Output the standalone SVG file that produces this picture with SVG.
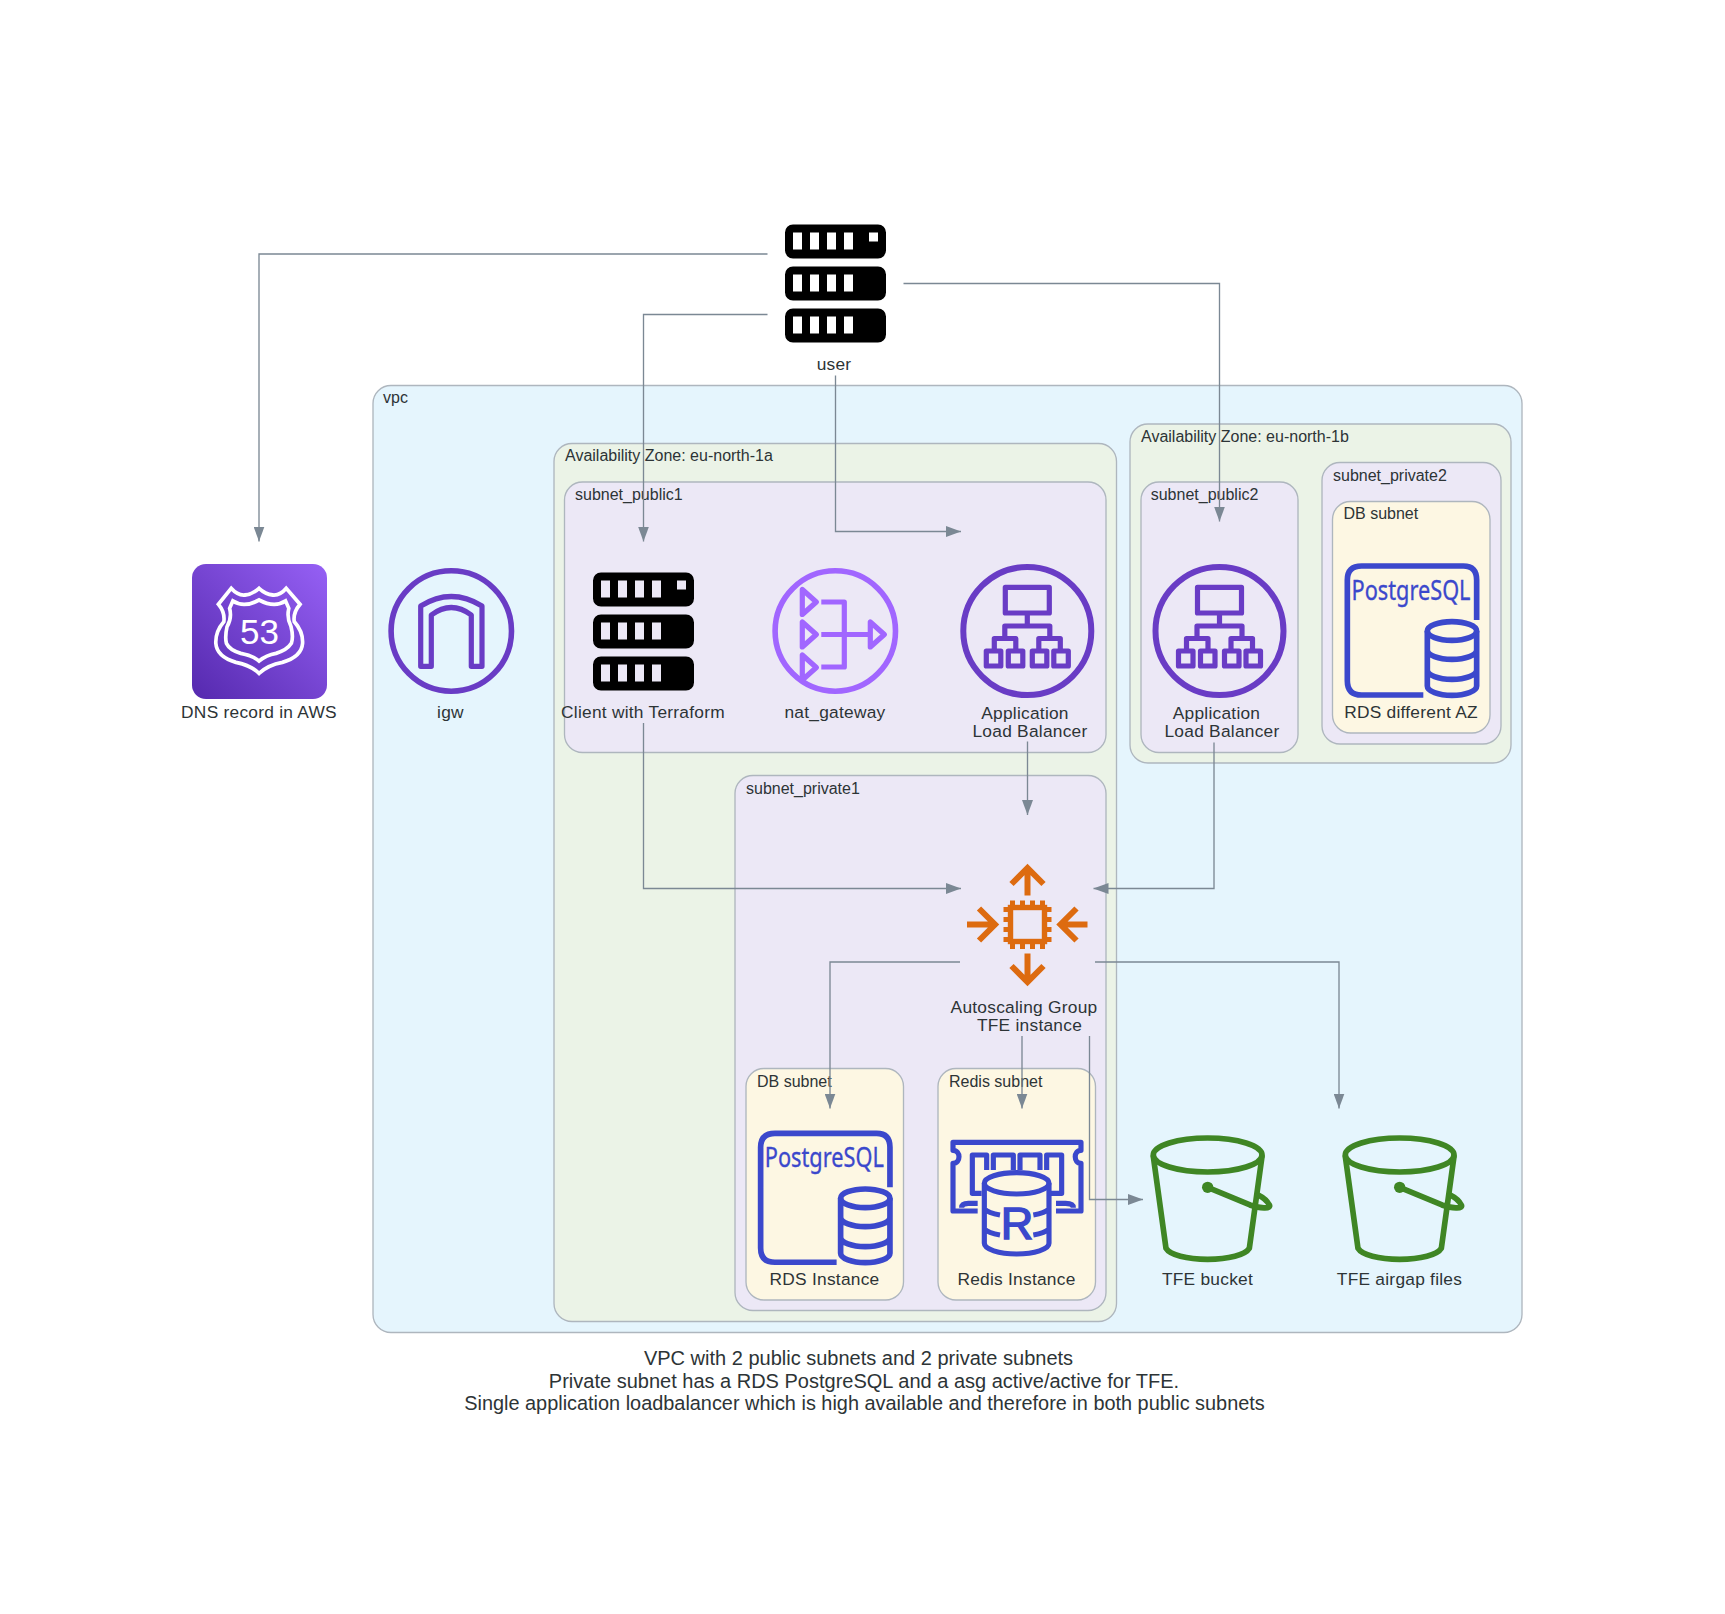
<svg xmlns="http://www.w3.org/2000/svg" xmlns:xlink="http://www.w3.org/1999/xlink" width="1725" height="1614" viewBox="0 0 1725 1614">
<style>
text{font-family:"Liberation Sans",Arial,sans-serif;fill:#2D3436}
.cl rect{stroke:#AEB6BE;stroke-width:1.33}
.cl text{font-size:16px}
.vpc{fill:#E5F5FD}.az{fill:#EBF3E7}.sn{fill:#ECE8F6}.db{fill:#FDF7E3}
.lb{font-size:17.33px;text-anchor:middle;letter-spacing:.25px}
.ttl{font-size:20px;text-anchor:middle}
.e{fill:none;stroke:#7B8894;stroke-width:1.33;marker-end:url(#ah)}
.p{fill:none;stroke:#693CC5;stroke-linejoin:round}
.n{fill:none;stroke:#A166FF;stroke-linejoin:round}
.b{fill:none;stroke:#3B48CC;stroke-width:17}
.g{fill:none;stroke:#3F8624;stroke-width:17;stroke-linejoin:round;stroke-linecap:round}
.o{fill:none;stroke:#DD6B10;stroke-width:6;stroke-linejoin:miter}
.pg{font-family:"Noto Sans","Open Sans",sans-serif;font-size:27px;fill:#3B48CC;stroke:#3B48CC;stroke-width:.35}
</style>
<defs>
<marker id="ah" markerUnits="userSpaceOnUse" markerWidth="15" markerHeight="11" refX="15" refY="5.500" orient="auto"><path d="M0 0L15 5.500L0 11z" fill="#7B8894"/></marker>
<linearGradient id="r53" x1="0" y1="1" x2="1" y2="0"><stop offset="0" stop-color="#5529AE"/><stop offset="1" stop-color="#9660F5"/></linearGradient>
<path id="server" fill-rule="evenodd" d="M8 0H93A8 8 0 0 1 101 8V26A8 8 0 0 1 93 34H8A8 8 0 0 1 0 26V8A8 8 0 0 1 8 0ZM8 8V25H17V8ZM25 8V25H34V8ZM42 8V25H51V8ZM59 8V25H68V8ZM84 8V17H93V8ZM8 42H93A8 8 0 0 1 101 50V68A8 8 0 0 1 93 76H8A8 8 0 0 1 0 68V50A8 8 0 0 1 8 42ZM8 50V67H17V50ZM25 50V67H34V50ZM42 50V67H51V50ZM59 50V67H68V50ZM8 84H93A8 8 0 0 1 101 92V110A8 8 0 0 1 93 118H8A8 8 0 0 1 0 110V92A8 8 0 0 1 8 84ZM8 92V109H17V92ZM25 92V109H34V92ZM42 92V109H51V92ZM59 92V109H68V92Z"/>
<g id="alb">
<circle r="64" class="p" stroke-width="6"/>
<g class="p" stroke-width="5.200">
<rect x="-22" y="-43.600" width="44" height="25.600"/>
<path d="M0-18V-5M-22.500 7V-5H22.500V7M-33 20V7.500H-11.500V20M11.500 20V7.500H33V20"/>
<rect x="-41" y="20" width="14.500" height="15"/><rect x="-19" y="20" width="14.500" height="15"/><rect x="5" y="20" width="14.500" height="15"/><rect x="26.500" y="20" width="14.500" height="15"/>
</g>
</g>
<g id="pgicon" transform="scale(.3333)">
<path class="b" d="M250 405H65Q22 405 22 362V60Q22 18 65 18H370Q410 18 410 60V180"/>
<ellipse class="b" cx="336" cy="213" rx="74" ry="28"/>
<path class="b" d="M262 213V378A74 28 0 0 0 410 378V213M262 270A74 28 0 0 0 410 270M262 330A74 28 0 0 0 410 330"/>
</g>
<g id="bucket" transform="scale(.3333)">
<ellipse class="g" cx="233" cy="165" rx="163" ry="51"/>
<path class="g" d="M70 170L108 445C120 465 170 478 233 478S346 465 358 445L396 170"/>
<path class="g" d="M233 262L360 315C395 328 425 325 418 315C412 303 395 290 385 285"/>
<circle cx="233" cy="262" r="17" fill="#3F8624"/>
</g>
</defs>
<rect width="1725" height="1614" fill="#fff"/>

<g id="clusters">
<g id="cl-vpc" class="cl"><rect class="vpc" x="373" y="385.500" width="1149" height="947" rx="18"/><text x="383" y="403">vpc</text></g>
<g id="cl-az-a" class="cl"><rect class="az" x="554" y="443.500" width="562.500" height="878" rx="18"/><text x="565" y="461">Availability Zone: eu-north-1a</text></g>
<g id="cl-az-b" class="cl"><rect class="az" x="1130" y="424" width="381" height="339" rx="18"/><text x="1141" y="442">Availability Zone: eu-north-1b</text></g>
<g id="cl-public1" class="cl"><rect class="sn" x="564.500" y="482" width="541.500" height="270.500" rx="18"/><text x="575" y="500">subnet_public1</text></g>
<g id="cl-private1" class="cl"><rect class="sn" x="735" y="775.500" width="371" height="535" rx="18"/><text x="746" y="793.500">subnet_private1</text></g>
<g id="cl-public2" class="cl"><rect class="sn" x="1141" y="482" width="157" height="270.500" rx="18"/><text x="1150.700" y="500">subnet_public2</text></g>
<g id="cl-private2" class="cl"><rect class="sn" x="1322" y="462.500" width="179" height="281.500" rx="18"/><text x="1333" y="481">subnet_private2</text></g>
<g id="cl-db2" class="cl"><rect class="db" x="1332.500" y="501.500" width="157.500" height="231.500" rx="18"/><text x="1343.500" y="519">DB subnet</text></g>
<g id="cl-db1" class="cl"><rect class="db" x="746" y="1068.500" width="157.500" height="231.500" rx="18"/><text x="757" y="1087">DB subnet</text></g>
<g id="cl-redis" class="cl"><rect class="db" x="938" y="1068.500" width="157.500" height="231.500" rx="18"/><text x="949" y="1087">Redis subnet</text></g>
</g>

<g id="connectors">
<path class="e" d="M767.500 254H259V541.500"/>
<path class="e" d="M767.500 314.500H643.500V541.500"/>
<path class="e" d="M835.500 375.500V531.500H961"/>
<path class="e" d="M903.500 283.500H1219.500V521.500"/>
<path class="e" d="M643.500 723V888.500H961"/>
<path class="e" d="M1027.500 741.500V815"/>
<path class="e" d="M1214 742.500V888.500H1093.500"/>
<path class="e" d="M960 962H830V1108.500"/>
<path class="e" d="M1022 1036V1108.500"/>
<path class="e" d="M1089.500 1036V1199.500H1143"/>
<path class="e" d="M1095 962H1339V1108.500"/>
</g>

<g id="node-user"><use href="#server" x="785" y="224.500"/><text class="lb" x="834" y="370">user</text></g>

<g id="node-dns">
<rect x="192" y="564" width="135" height="135" rx="14" fill="url(#r53)"/>
<g transform="translate(207.200,575) scale(.32,.3333)" fill="none" stroke="#fff" stroke-width="11.500" stroke-linejoin="miter">
<path d="M75 40Q95 62 118 60Q142 58 162 40Q182 58 205 60Q228 62 247 40L290 88Q268 112 272 140Q300 170 298 205Q295 245 235 262Q190 270 162 295Q135 270 90 262Q30 245 27 205Q25 170 52 140Q56 112 35 88Z"/>
<path d="M80 78Q115 100 162 75Q210 100 245 78L255 100Q248 130 262 155Q270 185 263 205Q250 225 215 235Q185 240 162 258Q140 240 105 235Q70 225 60 205Q55 185 62 155Q78 130 70 100Z"/>
</g>
<text x="259.500" y="643.500" font-size="35" text-anchor="middle" style="fill:#fff">53</text>
<text class="lb" x="259" y="717.500">DNS record in AWS</text>
</g>

<g id="node-igw">
<circle cx="451.300" cy="631" r="60.200" class="p" stroke-width="5.600"/>
<path class="p" stroke-width="5.200" d="M420.700 666.300V606Q451.300 587 482 606V666.300H471.300V615Q451.300 600 431.300 615V666.300Z"/>
<text class="lb" x="450.500" y="717.500">igw</text>
</g>

<g id="node-client"><use href="#server" x="593" y="572.500"/><text class="lb" x="643" y="717.500">Client with Terraform</text></g>

<g id="node-nat">
<circle cx="835.300" cy="631" r="60.200" class="n" stroke-width="5.600"/>
<g class="n" stroke-width="5.200" transform="translate(835.300,631)">
<path d="M-33-41.500V-16.500L-19-29ZM-33-9V16L-19 3.500ZM-33 24V49L-19 36.500ZM35-9V16L49 3.500Z"/>
<path d="M-14-29H9V36H-14M-14 3.500H35"/>
</g>
<text class="lb" x="835" y="717.500">nat_gateway</text>
</g>

<g id="node-alb1"><use href="#alb" x="1027.300" y="631"/><text class="lb" x="1025" y="719">Application</text><text class="lb" x="1030" y="737">Load Balancer</text></g>
<g id="node-alb2"><use href="#alb" x="1219.500" y="631"/><text class="lb" x="1216.500" y="719">Application</text><text class="lb" x="1222" y="737">Load Balancer</text></g>

<g id="node-rds2">
<use href="#pgicon" transform="translate(1340,560)"/>
<text class="pg" x="1351.500" y="600" textLength="119" lengthAdjust="spacingAndGlyphs">PostgreSQL</text>
<text class="lb" x="1411" y="717.500">RDS different AZ</text>
</g>

<g id="node-asg">
<g class="o">
<path d="M1027.500 868V895.500M1011.500 884L1027.500 868L1043.500 884"/>
<path d="M1027.500 953.500V981.500M1011.500 966L1027.500 982L1043.500 966"/>
<path d="M967 924.500H995M979 908.500L995 924.500L979 940.500"/>
<path d="M1087.500 924.500H1060.500M1076.500 908.500L1060.500 924.500L1076.500 940.500"/>
</g>
<rect x="1010.500" y="907.500" width="34" height="34" fill="none" stroke="#DD6B10" stroke-width="5.400"/>
<path fill="none" stroke="#DD6B10" stroke-width="5" d="M1012.500 900.500V908M1022.500 900.500V908M1032.500 900.500V908M1042.500 900.500V908M1012.500 941V949M1022.500 941V949M1032.500 941V949M1042.500 941V949M1003.500 909.500H1011M1003.500 919.500H1011M1003.500 929.500H1011M1003.500 939.500H1011M1044 909.500H1051.500M1044 919.500H1051.500M1044 929.500H1051.500M1044 939.500H1051.500"/>
<text class="lb" x="1024" y="1012.500">Autoscaling Group</text><text class="lb" x="1029.500" y="1031">TFE instance</text>
</g>

<g id="node-rds1">
<use href="#pgicon" transform="translate(753.300,1127.300)"/>
<text class="pg" x="764.800" y="1167.300" textLength="119" lengthAdjust="spacingAndGlyphs">PostgreSQL</text>
<text class="lb" x="824.500" y="1285">RDS Instance</text>
</g>

<g id="node-redis">
<g transform="translate(945,1135) scale(.3333)" fill="none" stroke="#3B48CC" stroke-width="15.500" stroke-linejoin="round">
<path d="M98 228H24V85C48 85 48 46 24 46V22H408V46C385 46 385 85 408 85V228H333"/>
<path d="M110 175H82V60H125V105M145 105V60H205V105M225 105V60H285V105M305 105V60H350V175H318"/>
<path d="M98 205H70Q50 205 50 218M333 205H362Q385 205 385 218"/>
<ellipse cx="215" cy="145" rx="97" ry="32"/>
<path d="M118 145V325A97 32 0 0 0 312 325V145M118 222Q130 234 165 240M118 282Q130 294 165 300M312 222Q300 234 265 240M312 282Q300 294 265 300"/>
</g>
<text x="1017" y="1238.500" font-size="45" text-anchor="middle" style="fill:#3B48CC;stroke:#3B48CC;stroke-width:1.500">R</text>
<text class="lb" x="1016.500" y="1285">Redis Instance</text>
</g>

<g id="node-bucket"><use href="#bucket" transform="translate(1130,1100)"/><text class="lb" x="1207.500" y="1285">TFE bucket</text></g>
<g id="node-airgap"><use href="#bucket" transform="translate(1322,1100)"/><text class="lb" x="1399.500" y="1285">TFE airgap files</text></g>

<g id="title">
<text class="ttl" x="858.500" y="1365">VPC with 2 public subnets and 2 private subnets</text>
<text class="ttl" x="864" y="1387.500">Private subnet has a RDS PostgreSQL and a asg active/active for TFE.</text>
<text class="ttl" x="864.500" y="1410" style="font-size:19.9px">Single application loadbalancer which is high available and therefore in both public subnets</text>
</g>
</svg>
